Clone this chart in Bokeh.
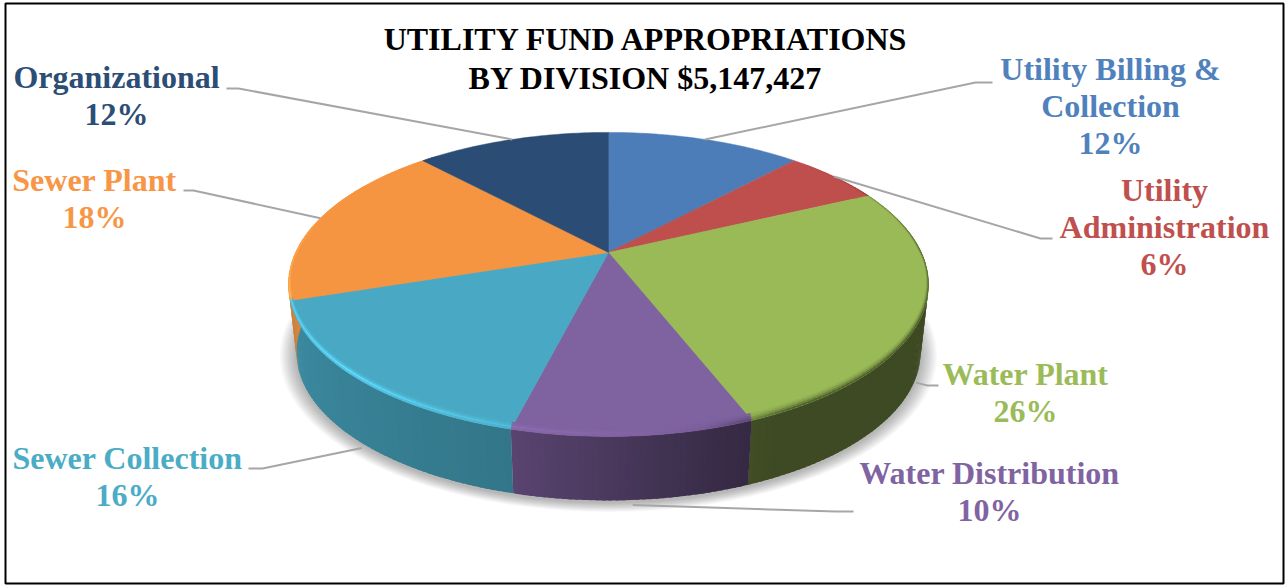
import numpy as np
from bokeh.core.properties import value
from bokeh.embed import file_html
from bokeh.plotting import figure
from bokeh.resources import INLINE

# Budget shares by division, clockwise from twelve o'clock
categories = ["Utility Billing & Collection", "Utility Administration", "Water Plant",
              "Water Distribution", "Sewer Collection", "Sewer Plant", "Organizational"]
percents = [12, 6, 26, 10, 16, 18, 12]
colors = ["#4c7db9", "#bf4f4c", "#9aba58", "#7f62a0", "#49a9c4", "#f59542", "#2b4c74"]
text_colors = ["#4f81bd", "#c0504d", "#9bbb59", "#8064a2", "#4bacc6", "#f79646", "#2c4d75"]
title_lines = ["UTILITY FUND APPROPRIATIONS", "BY DIVISION $5,147,427"]

# Label lines per slice: anchor centre x, first row y, and the text rows
label_rows = [
    (1110, 68, ["Utility Billing &", "Collection", "12%"]),
    (1164, 189, ["Utility", "Administration", "6%"]),
    (1025, 373, ["Water Plant", "26%"]),
    (989, 472, ["Water Distribution", "10%"]),
    (127, 457, ["Sewer Collection", "16%"]),
    (94, 179, ["Sewer Plant", "18%"]),
    (116, 76, ["Organizational", "12%"]),
]
# Leader tails, from the elbow next to each label outwards
leader_tails = [
    [(975, 82), (992, 82)],
    [(1040, 238), (1052, 238)],
    [(927, 385), (938, 385)],
    [(835, 511), (853, 511)],
    [(262, 468), (248, 468)],
    [(193, 190), (183, 190)],
    [(238, 88), (226, 88)],
]

# Perspective projection of the disc onto the page
CX, CY = 608.0, 252.0
RX, RY, TILT = 312.9, 145.3, 0.21
BOTTOM_DY, BOTTOM_SCALE = 68.6, 0.975


def project(theta_deg, radius=1.0, dy=0.0, scale=1.0):
    t = np.radians(theta_deg)
    x, y = radius * np.sin(t), radius * np.cos(t)
    w = 1 + TILT * y
    return CX + scale * RX * x / w, CY + dy - scale * RY * y / w


def hex_rgb(c):
    return np.array([int(c[i:i + 2], 16) for i in (1, 3, 5)], dtype=float)


def rgb_hex(v):
    v = np.clip(np.round(v), 0, 255).astype(int)
    return "#%02x%02x%02x" % tuple(v)


def side_factor(theta):
    return np.interp(theta, [60, 155, 165, 195, 250, 262, 300], [.40, .40, .46, .70, .82, .88, .95])


def rim_amount(theta):
    return np.interp(theta, [45, 90, 152, 166, 195, 225, 258, 285, 320],
                     [0, -.9, -.8, -.1, .35, 1, .8, .15, 0])


def rim_point(theta, inset_px):
    # Bevel offset: pulled straight up along the front, barely inward at the sides
    x, y = project(theta, radius=1.0 - inset_px * 0.0012)
    lift = inset_px * np.sqrt(np.clip(-np.cos(np.radians(theta)), 0, 1))
    return x, y - lift


edges = np.concatenate([[0], np.cumsum(percents)]) * 3.6

p = figure(width=1288, height=585, x_range=(0, 1288), y_range=(585, 0),
           output_backend="svg", toolbar_location=None, min_border=0)
p.axis.visible = False
p.grid.visible = False
p.outline_line_color = None
p.background_fill_color = "white"
p.border_fill_color = "white"

# Panel frame
p.quad(left=[5], right=[1283], top=[3], bottom=[583], fill_color=None,
       line_color="black", line_width=2)

# Soft drop shadow: stacked translucent discs
circle = np.arange(0, 361, 3.0)
for grow in np.linspace(0.052, 0.004, 13):
    sx, sy = project(circle, dy=BOTTOM_DY + 2, scale=BOTTOM_SCALE + grow)
    p.patch(sx, sy, fill_color="black", fill_alpha=0.022, line_color=None)

# Side wall of the pie, one thin quad per degree, each overlapping the next
wx, wy, wc = [], [], []
for i, base in enumerate(colors):
    rgb = hex_rgb(base)
    for a in np.arange(edges[i], edges[i + 1], 1.0):
        b = min(a + 1.6, edges[i + 1])
        if not 60 <= a <= 300:
            continue
        x0, y0 = project(np.array([a, b]))
        x1, y1 = project(np.array([b, a]), dy=BOTTOM_DY, scale=BOTTOM_SCALE)
        wx.append(list(x0) + list(x1))
        wy.append(list(y0) + list(y1))
        wc.append(rgb_hex(rgb * side_factor(a + 0.5)))
p.patches(wx, wy, fill_color=wc, line_color=None)

# Top face of each slice
for i, base in enumerate(colors):
    arc = np.linspace(edges[i], edges[i + 1], int(percents[i] * 4) + 2)
    ax, ay = project(arc)
    p.patch(np.r_[CX, ax], np.r_[CY, ay], fill_color=base, line_color=base, line_width=0.5)

# Bevel along the rim: highlight at lower left, shading at lower right
bands = [(6.0, 4.5, .12, .12), (4.5, 3.0, .45, .3), (3.0, 1.5, 1.0, .6), (1.5, 0.0, .5, .95)]
bx, by, bc = [], [], []
for i, base in enumerate(colors):
    rgb = hex_rgb(base)
    for a in np.arange(edges[i], edges[i + 1], 1.0):
        b = min(a + 1.6, edges[i + 1])
        amount = rim_amount(a + 0.5)
        if amount == 0:
            continue
        for d0, d1, light, dark in bands:
            xa, ya = rim_point(np.array([a, b]), d0)
            xb, yb = rim_point(np.array([b, a]), d1)
            if amount > 0:
                col = rgb + rgb * 0.32 * light * amount
            else:
                col = rgb + (rgb * side_factor(a + 0.5) - rgb) * dark * -amount
            bx.append(list(xa) + list(xb))
            by.append(list(ya) + list(yb))
            bc.append(rgb_hex(col))
p.patches(bx, by, fill_color=bc, line_color=None)

# Leader lines start on the rim at each slice's mid angle
for i, tail in enumerate(leader_tails):
    mid = (edges[i] + edges[i + 1]) / 2
    front = 90 < mid < 270
    sx, sy = project(mid, dy=BOTTOM_DY + 5 if front else 0, scale=BOTTOM_SCALE if front else 1.0)
    xs = [float(sx)] + [t[0] for t in tail]
    ys = [float(sy)] + [t[1] for t in tail]
    p.line(xs, ys, line_color="#a6a6a6", line_width=2)

# Slice labels
FONT = value("Liberation Serif")
ROW = 37
for (cx, base_y, rows), col in zip(label_rows, text_colors):
    p.text([cx] * len(rows), [base_y + ROW * k for k in range(len(rows))], text=rows,
           text_font=FONT, text_font_style="bold", text_font_size="32px",
           text_color=col, text_align="center", text_baseline="alphabetic")

# Title
p.text([646, 645], [38, 77], text=title_lines, text_font=FONT, text_font_style="bold",
       text_font_size="32px", text_color="black", text_align="center",
       text_baseline="alphabetic")

open("out.html", "w").write(file_html(p, INLINE))
